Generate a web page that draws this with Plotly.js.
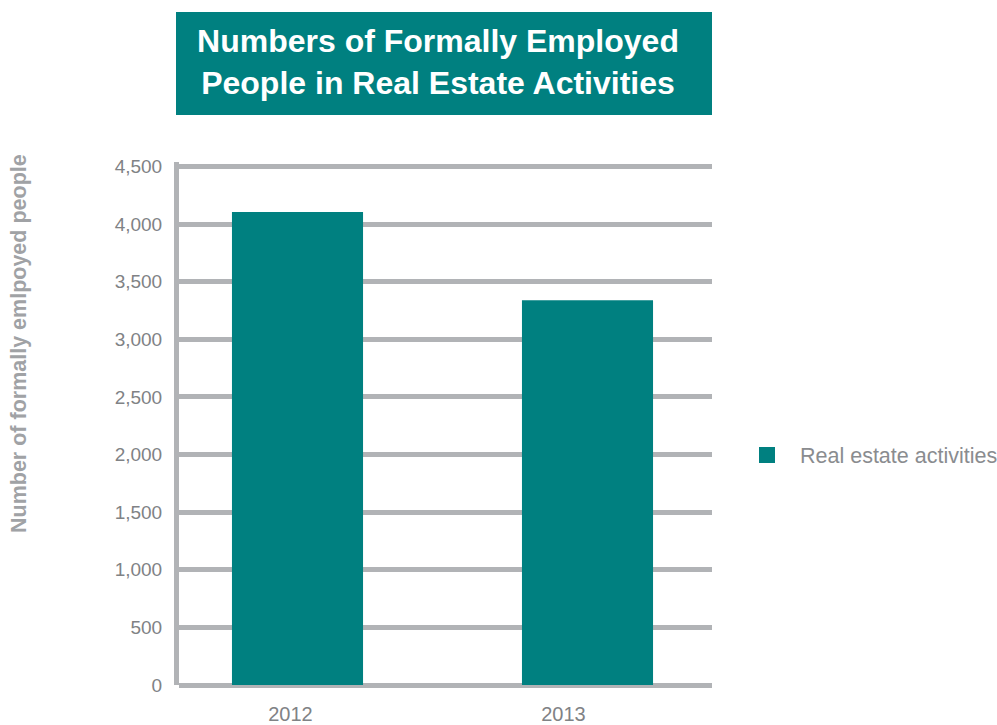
<!DOCTYPE html>
<html>
<head>
<meta charset="utf-8">
<script src="https://cdn.plot.ly/plotly-3.0.1.min.js"></script>
<style>html,body{margin:0;padding:0;background:#fff;}#chart{width:997px;height:725px;}</style>
</head>
<body>
<div id="chart"></div>
<script>
const years = ["2012", "2013"];
const employed = [4105, 3340];
const seriesName = "Real estate activities";
const yTickVals = [0, 500, 1000, 1500, 2000, 2500, 3000, 3500, 4000, 4500];
const yTickText = ["0", "500", "1,000", "1,500", "2,000", "2,500", "3,000", "3,500", "4,000", "4,500"];
const chartTitle = "Numbers of Formally Employed<br>People in Real Estate Activities";
const yTitle = "Number of formally emlpoyed people";

const teal = "#008080";
const grid = "#b1b3b6";
const W = 997, H = 725;
const L = 179, R = 285, T = 162, B = 40;
const pw = W - L - R, ph = H - T - B;
const px = v => (v - L) / pw;
const py = v => (H - B - v) / ph;

const traces = [
  {
    type: "bar",
    x: years,
    y: employed,
    name: seriesName,
    width: 0.452,
    marker: {color: teal},
    showlegend: false,
    hoverinfo: "x+y"
  },
  {
    // carries the year labels on the label axis (no visible marks)
    type: "scatter",
    mode: "markers",
    x: years.map((_, i) => i),
    y: years.map(() => null),
    xaxis: "x2",
    showlegend: false,
    hoverinfo: "skip"
  },
  {
    type: "scatter",
    mode: "markers",
    x: [null],
    y: [null],
    name: seriesName,
    marker: {symbol: "square", size: 19, color: teal},
    showlegend: true
  }
];

const layout = {
  width: W, height: H,
  margin: {l: L, r: R, t: T, b: B, pad: 0, autoexpand: false},
  paper_bgcolor: "#ffffff",
  plot_bgcolor: "#ffffff",
  font: {family: "Liberation Sans, Arial, sans-serif", color: "#808285"},
  title: {
    text: "<b>" + chartTitle + "</b>",
    font: {size: 32, color: "#ffffff", family: "Liberation Sans, Arial, sans-serif"},
    xref: "paper", x: px(438), xanchor: "center",
    yref: "container", y: 1 - 52 / H, yanchor: "middle"
  },
  xaxis: {
    type: "category",
    range: [(L - 297.5) / 290, (712 - 297.5) / 290],
    showgrid: false, zeroline: false, showline: false,
    ticks: "", showticklabels: false
  },
  xaxis2: {
    overlaying: "x", anchor: "y", side: "bottom",
    range: [(L - 290.5) / 273, (712 - 290.5) / 273],
    tickvals: [0, 1], ticktext: years,
    showgrid: false, zeroline: false, showline: false,
    ticks: "", tickfont: {size: 20, color: "#808285"},
    ticklabelstandoff: 15
  },
  yaxis: {
    range: [0, 4539],
    tickvals: yTickVals, ticktext: yTickText,
    showgrid: true, gridcolor: grid, gridwidth: 5,
    zeroline: true, zerolinecolor: grid, zerolinewidth: 5,
    showline: true, linecolor: grid, linewidth: 5,
    ticks: "", tickfont: {size: 19, color: "#808285"},
    ticklabelstandoff: 8
  },
  shapes: [
    {type: "rect", xref: "paper", yref: "paper",
     x0: px(176), x1: px(712), y0: py(115), y1: py(12),
     fillcolor: teal, line: {width: 0}, layer: "below"}
  ],
  annotations: [
    {text: "<b>" + yTitle + "</b>", xref: "paper", yref: "paper",
     x: px(19), y: py(343), xanchor: "center", yanchor: "middle",
     textangle: -90, showarrow: false,
     font: {size: 21.5, color: "#a0a2a5", family: "Liberation Sans, Arial, sans-serif"}}
  ],
  legend: {
    x: px(734), xanchor: "left",
    y: py(455), yanchor: "middle",
    font: {size: 21.5, color: "#8a8c8f"},
    itemwidth: 56,
    bgcolor: "rgba(0,0,0,0)"
  },
  bargap: 0.5
};

Plotly.newPlot("chart", traces, layout, {displayModeBar: false, staticPlot: true});
</script>
</body>
</html>
